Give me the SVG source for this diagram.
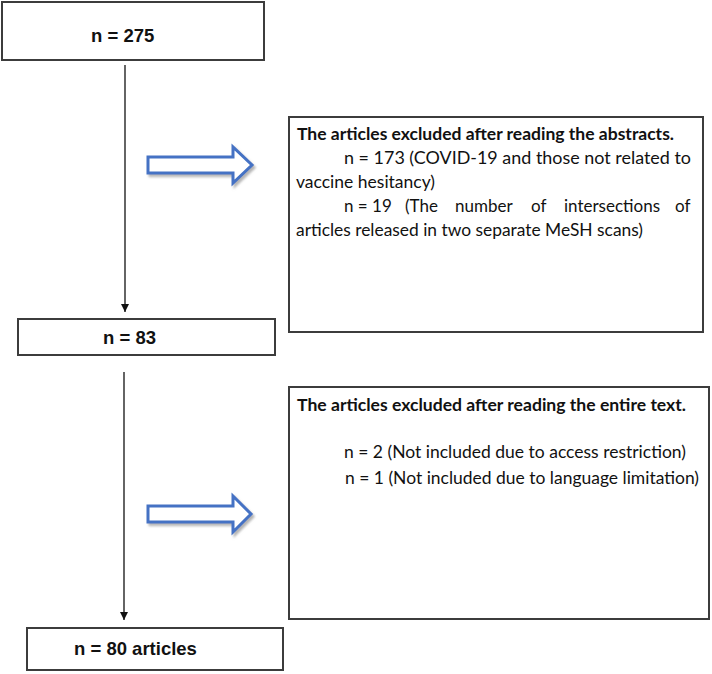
<svg xmlns="http://www.w3.org/2000/svg" width="712" height="674" viewBox="0 0 712 674">
<style>
.box{fill:#fff;stroke:#3c3c3c;stroke-width:2}
.lbl{font-family:"Liberation Sans",Arial,sans-serif;font-weight:bold;font-size:18.5px;fill:#111}
.t{font-family:Lato,"Liberation Sans",sans-serif;font-size:17px;fill:#111}
.tb{font-family:Lato,"Liberation Sans",sans-serif;font-size:17px;font-weight:bold;fill:#111}
.conn{stroke:#111;stroke-width:1.3;fill:none}
.blk{fill:#fff;stroke:#4472C4;stroke-width:3;stroke-linejoin:miter}
</style>
<defs>
<marker id="ah" viewBox="0 0 10 10" refX="10" refY="5" markerWidth="8" markerHeight="8" markerUnits="userSpaceOnUse" orient="auto">
<path d="M0,0 L10,5 L0,10 Z" fill="#111"/>
</marker>
<filter id="sh" x="-10%" y="-20%" width="130%" height="150%">
<feDropShadow dx="2" dy="2.5" stdDeviation="1.2" flood-color="#777" flood-opacity="0.55"/>
</filter>
</defs>
<rect width="712" height="674" fill="#fff"/>
<g id="connectors">
<line class="conn" x1="125" y1="65" x2="125" y2="312" marker-end="url(#ah)"/>
<line class="conn" x1="124" y1="372" x2="124" y2="620" marker-end="url(#ah)"/>
<path class="blk" filter="url(#sh)" d="M148,157 L233,157 L233,147 L252,165 L233,183 L233,173 L148,173 Z"/>
<path class="blk" filter="url(#sh)" d="M148,506 L233,506 L233,496 L251,514 L233,532 L233,522 L148,522 Z"/>
</g>
<g id="node-275">
<rect class="box" x="2" y="2" width="262" height="58"/>
<text class="lbl" x="91" y="42">n = 275</text>
</g>
<g id="node-83">
<rect class="box" x="18" y="319" width="257" height="36"/>
<text class="lbl" x="103" y="344">n = 83</text>
</g>
<g id="node-80">
<rect class="box" x="27" y="628" width="256" height="42"/>
<text class="lbl" x="74" y="655">n = 80 articles</text>
</g>
<g id="excl-abstracts">
<rect class="box" x="289" y="117" width="414" height="215"/>
<text class="tb" x="297" y="140" textLength="377" lengthAdjust="spacingAndGlyphs">The articles excluded after reading the abstracts.</text>
<text class="t" x="344" y="164" textLength="347" lengthAdjust="spacingAndGlyphs">n = 173 (COVID-19 and those not related to</text>
<text class="t" x="296" y="188" textLength="139" lengthAdjust="spacingAndGlyphs">vaccine hesitancy)</text>
<text class="t" y="212"><tspan x="344">n = 19</tspan><tspan x="405">(The</tspan><tspan x="455">number</tspan><tspan x="531">of</tspan><tspan x="564">intersections</tspan><tspan x="675">of</tspan></text>
<text class="t" x="296" y="236" textLength="347" lengthAdjust="spacingAndGlyphs">articles released in two separate MeSH scans)</text>
</g>
<g id="excl-fulltext">
<rect class="box" x="289" y="387" width="420" height="232"/>
<text class="tb" x="297" y="411" textLength="389" lengthAdjust="spacingAndGlyphs">The articles excluded after reading the entire text.</text>
<text class="t" x="344" y="458" textLength="342" lengthAdjust="spacingAndGlyphs">n = 2 (Not included due to access restriction)</text>
<text class="t" x="345" y="484" textLength="354" lengthAdjust="spacingAndGlyphs">n = 1 (Not included due to language limitation)</text>
</g>
</svg>
